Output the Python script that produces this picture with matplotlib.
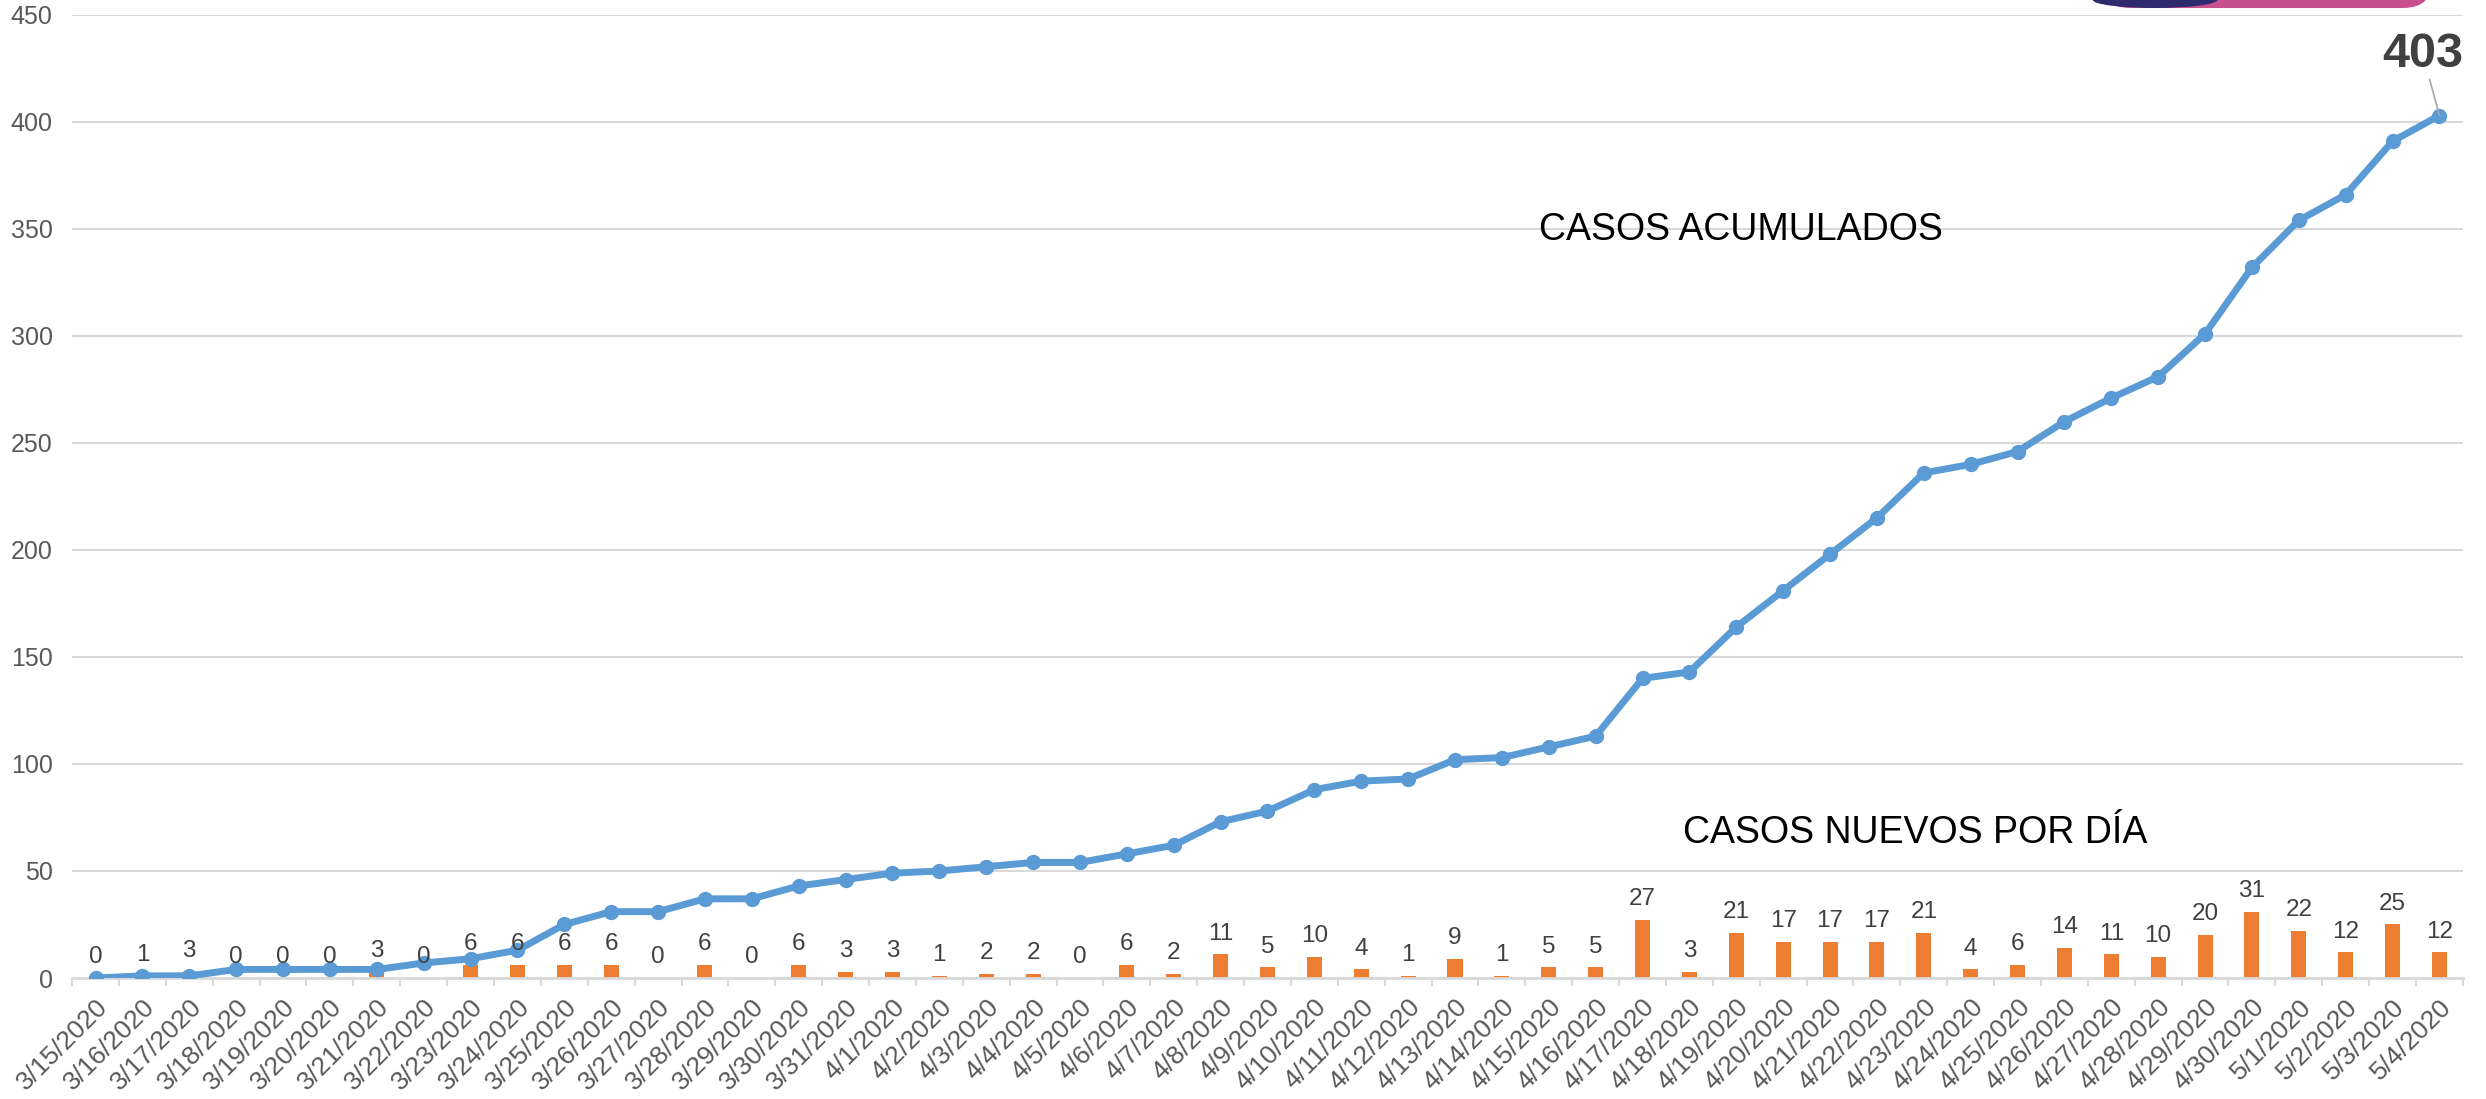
import numpy as np
import matplotlib.pyplot as plt
from matplotlib.patches import FancyBboxPatch, Ellipse

plt.rcParams['font.family'] = ['Liberation Sans', 'DejaVu Sans']

# fechas
fechas = ['3/15/2020', '3/16/2020', '3/17/2020', '3/18/2020', '3/19/2020', '3/20/2020',
          '3/21/2020', '3/22/2020', '3/23/2020', '3/24/2020', '3/25/2020', '3/26/2020',
          '3/27/2020', '3/28/2020', '3/29/2020', '3/30/2020', '3/31/2020',
          '4/1/2020', '4/2/2020', '4/3/2020', '4/4/2020', '4/5/2020', '4/6/2020',
          '4/7/2020', '4/8/2020', '4/9/2020', '4/10/2020', '4/11/2020', '4/12/2020',
          '4/13/2020', '4/14/2020', '4/15/2020', '4/16/2020', '4/17/2020', '4/18/2020',
          '4/19/2020', '4/20/2020', '4/21/2020', '4/22/2020', '4/23/2020', '4/24/2020',
          '4/25/2020', '4/26/2020', '4/27/2020', '4/28/2020', '4/29/2020', '4/30/2020',
          '5/1/2020', '5/2/2020', '5/3/2020', '5/4/2020']

# casos nuevos por dia (barras)
nuevos = [0, 1, 3, 0, 0, 0, 3, 0, 6, 6, 6, 6, 0, 6, 0, 6, 3,
          3, 1, 2, 2, 0, 6, 2, 11, 5, 10, 4, 1, 9, 1, 5, 5, 27, 3,
          21, 17, 17, 17, 21, 4, 6, 14, 11, 10, 20, 31,
          22, 12, 25, 12]

# casos acumulados (linea)
acumulados = [0, 1, 1, 4, 4, 4, 4, 7, 9, 13, 25, 31, 31, 37, 37, 43, 46,
              49, 50, 52, 54, 54, 58, 62, 73, 78, 88, 92, 93, 102, 103, 108, 113,
              140, 143, 164, 181, 198, 215, 236, 240, 246, 260, 271, 281, 301, 332,
              354, 366, 391, 403]

x = np.arange(len(fechas))

fig = plt.figure(figsize=(24.86, 10.99), dpi=100)
ax = fig.add_axes([0.029, 0.1101, 0.9617, 0.8763])

ax.bar(x, nuevos, width=0.32, color='#ED7D31', zorder=2)
ax.plot(x, acumulados, color='#5B9BD5', lw=5, marker='o', markersize=10, zorder=3)

# etiquetas de las barras
for xi, v in zip(x, nuevos):
    ax.annotate(str(v), (xi, v), xytext=(0, 7), textcoords='offset points',
                ha='center', va='bottom', fontsize=17.5, color='#404040', zorder=4)

# etiqueta del ultimo punto
ax.annotate(str(acumulados[-1]), (x[-1], acumulados[-1]), xytext=(-12, 28),
            textcoords='offset points', ha='center', va='bottom', fontsize=35,
            fontweight='bold', color='#404040',
            arrowprops=dict(arrowstyle='-', color='#A6A6A6', lw=1.2, shrinkA=0, shrinkB=0))

ax.text(0.6134, 0.777, 'CASOS ACUMULADOS', transform=ax.transAxes, fontsize=27,
        color='black', ha='left', va='center')
ax.text(0.674, 0.1505, 'CASOS NUEVOS POR DÍA', transform=ax.transAxes, fontsize=27,
        color='black', ha='left', va='center')

ax.set_xlim(-0.5, len(fechas) - 0.5)
ax.set_ylim(0, 450)
ax.set_yticks(np.arange(0, 451, 50))
ax.yaxis.grid(True, color='#D9D9D9', lw=1.5, zorder=0)
ax.set_axisbelow(True)

ax.set_xticks(x)
ax.set_xticklabels(fechas, rotation=45, ha='right', rotation_mode='anchor',
                   fontsize=19, color='#595959')
ax.set_xticks(np.arange(-0.5, len(fechas), 1), minor=True)
ax.tick_params(axis='x', which='major', length=0, pad=12)
ax.tick_params(axis='x', which='minor', length=6, color='#D9D9D9', width=1.5)
ax.tick_params(axis='y', length=0, labelsize=18, labelcolor='#595959', pad=14)

for s in ['top', 'right', 'left']:
    ax.spines[s].set_visible(False)
ax.spines['bottom'].set_color('#D9D9D9')
ax.spines['bottom'].set_linewidth(2)

# trozo del logo arriba a la derecha
logo = FancyBboxPatch((2100 / 2486, 1 - 8 / 1099), 333 / 2486, 0.06,
                      boxstyle='round,pad=0,rounding_size=0.012',
                      transform=fig.transFigure, facecolor='#C9508F', edgecolor='none',
                      mutation_aspect=2.26)
fig.patches.append(logo)
logo2 = Ellipse((2155 / 2486, 1.0), 0.05, 2 * 8 / 1099, transform=fig.transFigure,
                facecolor='#2E2A6E', edgecolor='none')
fig.patches.append(logo2)

fig.savefig('out.png', dpi=100)
